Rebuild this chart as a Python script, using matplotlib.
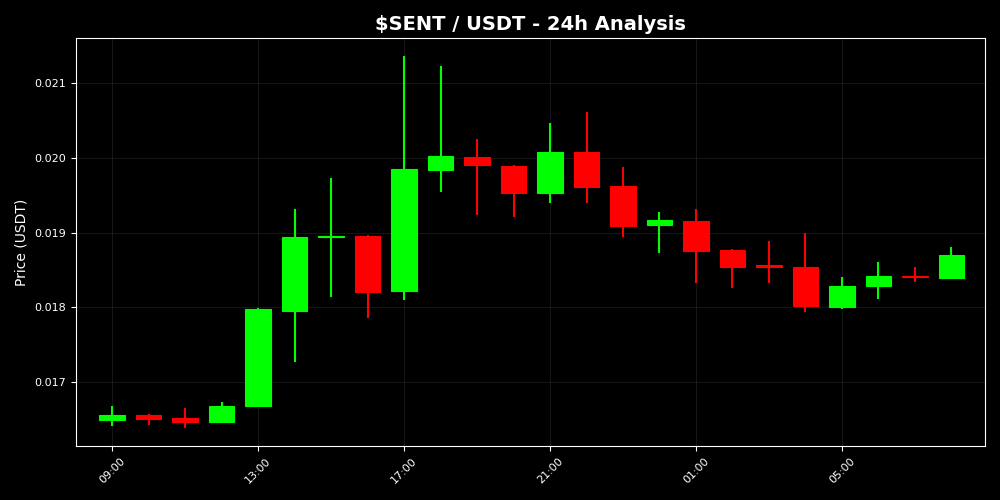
import matplotlib
matplotlib.use("Agg")
import matplotlib.pyplot as plt
import matplotlib.dates as mdates
import pandas as pd

# hourly OHLC values
times = pd.date_range("2024-01-01 09:00", periods=24, freq="h")
opens = [0.016492, 0.016565, 0.016522, 0.016465, 0.016679, 0.017954, 0.018940, 0.018953,
         0.018221, 0.019840, 0.020014, 0.019894, 0.019528, 0.020073, 0.019622, 0.019104,
         0.019158, 0.018770, 0.018565, 0.018542, 0.018003, 0.018284, 0.018418, 0.018395]
highs = [0.016679, 0.016570, 0.016652, 0.016728, 0.017990, 0.019314, 0.019729, 0.018960,
         0.021361, 0.021227, 0.020251, 0.019903, 0.020469, 0.020612, 0.019880, 0.019274,
         0.019314, 0.018779, 0.018886, 0.018993, 0.018405, 0.018601, 0.018538, 0.018806]
lows = [0.016411, 0.016425, 0.016389, 0.016456, 0.016679, 0.017268, 0.018141, 0.017856,
        0.018097, 0.019538, 0.019234, 0.019211, 0.019399, 0.019399, 0.018940, 0.018730,
        0.018328, 0.018262, 0.018328, 0.017936, 0.017981, 0.018114, 0.018334, 0.018378]
closes = [0.016559, 0.016505, 0.016465, 0.016683, 0.017977, 0.018944, 0.018950, 0.018208,
          0.019849, 0.020023, 0.019903, 0.019528, 0.020081, 0.019609, 0.019087, 0.019171,
          0.018757, 0.018538, 0.018534, 0.018021, 0.018288, 0.018422, 0.018405, 0.018699]

up_color = "#00ff00"
down_color = "#ff0000"

fig = plt.figure(figsize=(10, 5), dpi=100, facecolor="black")
ax = fig.add_axes([0.076, 0.108, 0.909, 0.816])
ax.set_facecolor("black")

x = mdates.date2num(times)
hour = 1 / 24
width = 0.7 * hour

for xi, o, h, l, c in zip(x, opens, highs, lows, closes):
    col = up_color if c >= o else down_color
    ax.vlines(xi, l, h, color=col, linewidth=1.5, zorder=2)
    bottom = min(o, c)
    height = max(abs(c - o), 0.000015)
    ax.bar(xi, height, width=width, bottom=bottom, color=col, edgecolor=col,
           linewidth=0.8, zorder=3)

ax.set_xlim(x[0] - 0.99 * hour, x[-1] + 0.92 * hour)
ax.set_ylim(0.016144, 0.021602)

ax.xaxis.set_major_locator(mdates.HourLocator(byhour=[1, 5, 9, 13, 17, 21]))
ax.xaxis.set_major_formatter(mdates.DateFormatter("%H:%M"))
plt.setp(ax.get_xticklabels(), rotation=45)

ax.grid(True, color="gray", alpha=0.2, linestyle="-", linewidth=0.6, zorder=0)
for s in ax.spines.values():
    s.set_color("white")
ax.tick_params(colors="white", labelsize=8)
ax.set_ylabel("Price (USDT)", color="white", fontsize=10)
ax.set_title("$SENT / USDT - 24h Analysis", color="white", fontsize=14, fontweight="bold")

fig.savefig("out.png", dpi=100, facecolor="black")
